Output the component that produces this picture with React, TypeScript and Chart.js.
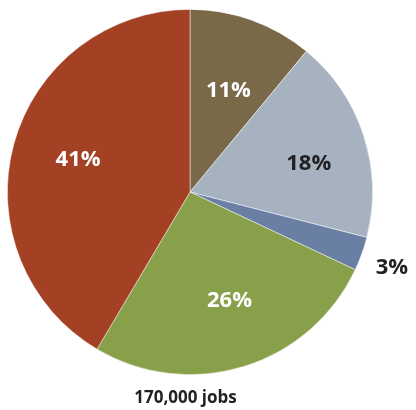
import React, { useEffect, useRef } from "react";
import { Chart, registerables } from "chart.js";

Chart.register(...registerables);

const categories = ["Slice A", "Slice B", "Slice C", "Slice D", "Slice E"];
const values = [11, 18, 3, 26.5, 41.5];
const labels = ["11%", "18%", "3%", "26%", "41%"];
const colors = ["#7a6948", "#a7b2c1", "#6a7fa4", "#89a04b", "#a44124"];
const labelColors = ["#ffffff", "#222222", "#222222", "#ffffff", "#ffffff"];
const totalLabel = "170,000 jobs";

// label placement: radial factor and angular nudge (degrees)
const labelRadius = [0.6, 0.67, 1.18, 0.63, 0.64];
const labelNudge = [0.7, 4, 0.6, -3, 1.4];

const labelPlugin = {
  id: "sliceLabels",
  afterDatasetsDraw(chart: any) {
    const { ctx } = chart;
    const meta = chart.getDatasetMeta(0);
    ctx.save();
    ctx.textAlign = "center";
    ctx.textBaseline = "middle";
    ctx.font = "bold 22px 'Open Sans'";
    meta.data.forEach((arc: any, i: number) => {
      const p = arc.getProps(["x", "y", "startAngle", "endAngle", "outerRadius"], true);
      const mid = (p.startAngle + p.endAngle) / 2 + (labelNudge[i] * Math.PI) / 180;
      const f = labelRadius[i];
      const x = p.x + Math.cos(mid) * p.outerRadius * f;
      const y = p.y + Math.sin(mid) * p.outerRadius * f;
      ctx.fillStyle = labelColors[i];
      ctx.fillText(labels[i], x, y + 1);
    });
    const a0: any = meta.data[0];
    ctx.font = "bold 17px 'Open Sans'";
    ctx.fillStyle = "#222222";
    ctx.fillText(totalLabel, a0.x - 4.5, a0.y + a0.outerRadius + 24);
    ctx.restore();
  },
};

export default function App() {
  const ref = useRef<HTMLCanvasElement>(null);
  useEffect(() => {
    if (!ref.current) return;
    const chart = new Chart(ref.current, {
      type: "pie",
      data: {
        labels: categories,
        datasets: [
          {
            data: values,
            backgroundColor: colors,
            borderColor: "rgba(255,255,255,0.6)",
            borderWidth: 0.8,
          },
        ],
      },
      options: {
        responsive: false,
        animation: false,
        layout: { padding: { left: 7, top: 9, right: 43, bottom: 35 } },
        plugins: {
          legend: { display: false },
          tooltip: { enabled: false },
        },
      },
      plugins: [labelPlugin],
    });
    return () => chart.destroy();
  }, []);
  return (
    <div style={{ position: "fixed", left: 0, top: 0, width: 416, height: 410, background: "#fff" }}>
      <canvas ref={ref} width={416} height={410} style={{ width: 416, height: 410 }} />
    </div>
  );
}
